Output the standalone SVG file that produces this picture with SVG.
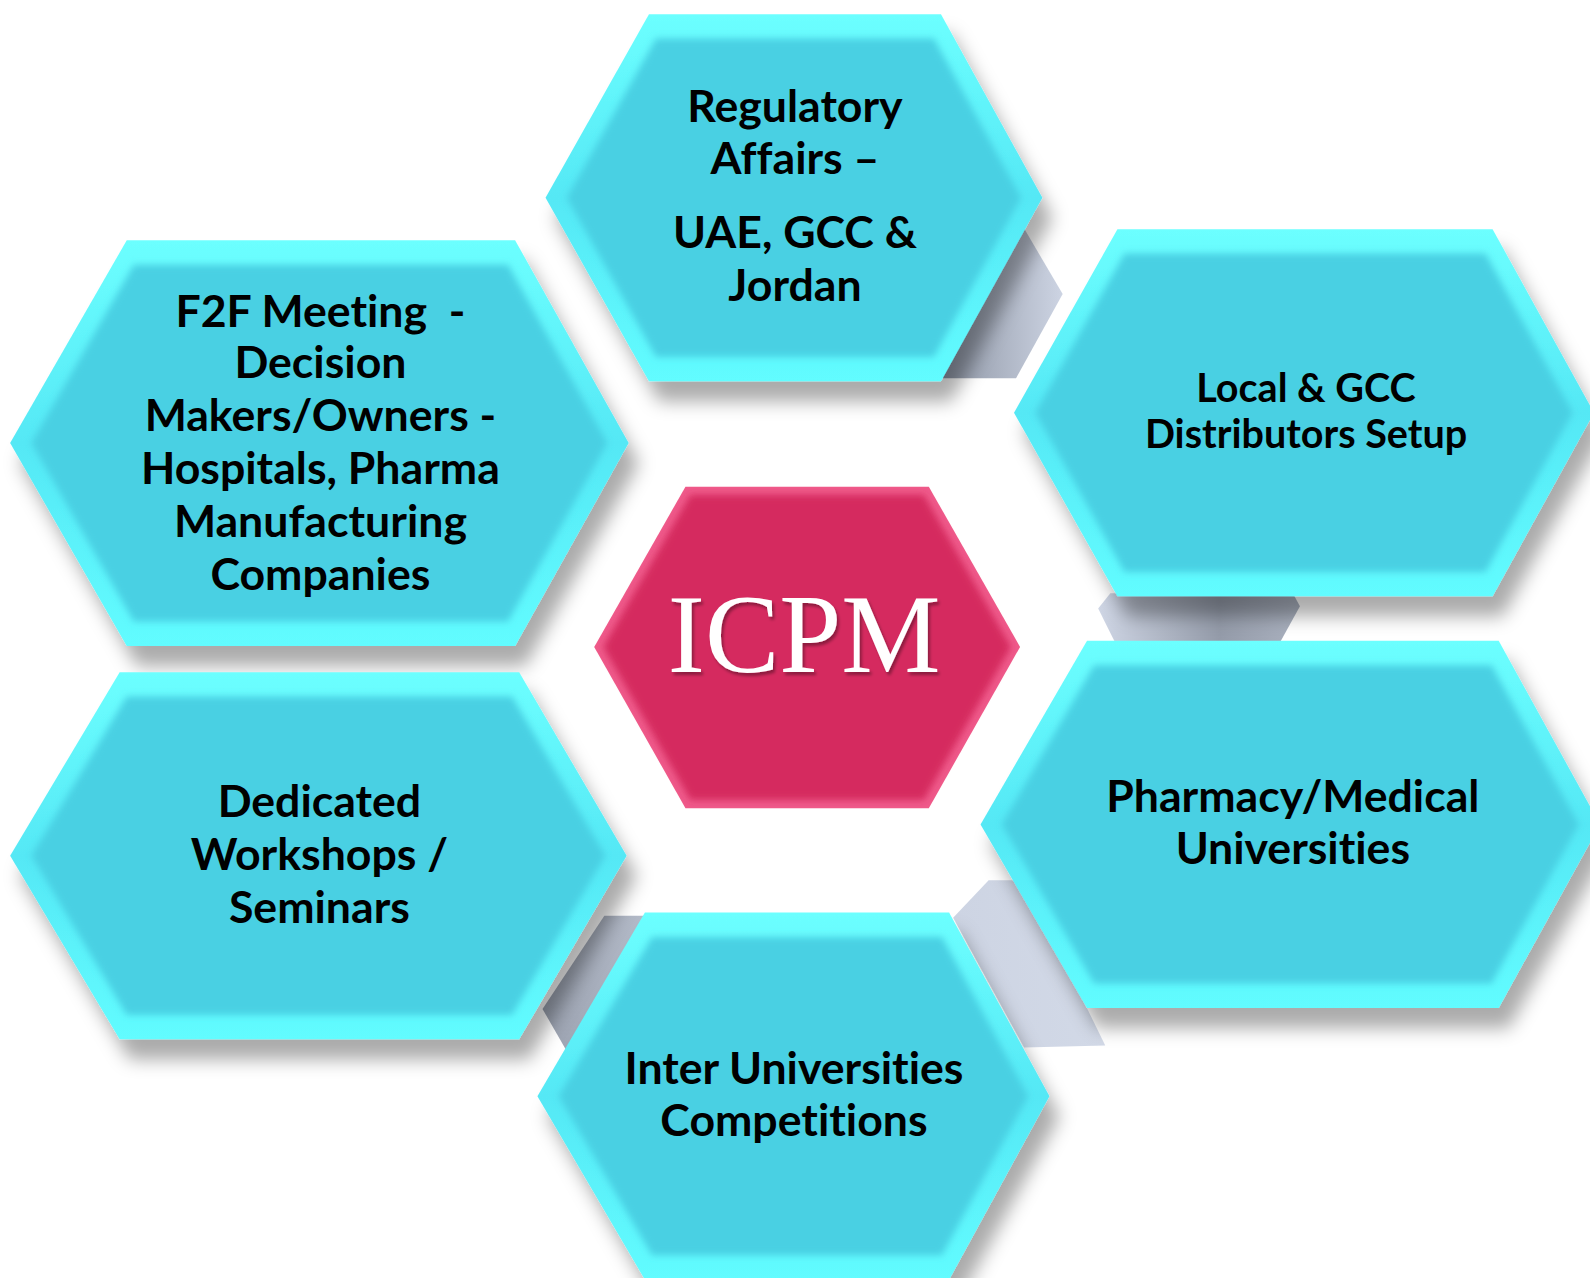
<svg xmlns="http://www.w3.org/2000/svg" width="1590" height="1278" viewBox="0 0 1590 1278">
<style>
.outer{fill:url(#bev);filter:url(#ds)}
.inner{fill:#4ad0e3;filter:url(#soft)}
.t{font-family:Lato,"Liberation Sans","DejaVu Sans",sans-serif;font-weight:700;font-size:44px;fill:#000;text-anchor:middle;font-variant-ligatures:none;font-feature-settings:"liga" 0}
.ts{font-size:39px}
.icpm{font-family:"Liberation Serif","DejaVu Serif",serif;font-size:110px;fill:#fff;text-anchor:middle;filter:url(#tsh)}
</style>
<defs>
<linearGradient id="bev" x1="0" y1="0" x2="0" y2="1">
<stop offset="0" stop-color="#6cffff"/>
<stop offset="0.5" stop-color="#55e8f5"/>
<stop offset="1" stop-color="#62fcff"/>
</linearGradient>
<linearGradient id="grayA" x1="0" y1="0" x2="1" y2="0">
<stop offset="0" stop-color="#8e96a5"/>
<stop offset="1" stop-color="#cdd4e3"/>
</linearGradient>
<linearGradient id="grayB" x1="0" y1="0" x2="1" y2="0">
<stop offset="0" stop-color="#cfd6e5"/>
<stop offset="0.6" stop-color="#949ba9"/>
<stop offset="1" stop-color="#aab1bf"/>
</linearGradient>
<linearGradient id="grayC" x1="0" y1="0" x2="1" y2="0">
<stop offset="0" stop-color="#cdd4e3"/>
<stop offset="1" stop-color="#d2d9e7"/>
</linearGradient>
<linearGradient id="grayD" x1="0" y1="0" x2="1" y2="0">
<stop offset="0" stop-color="#9aa1af"/>
<stop offset="1" stop-color="#b9c0ce"/>
</linearGradient>
<filter id="ds" x="-20%" y="-20%" width="150%" height="150%">
<feDropShadow dx="10" dy="20" stdDeviation="9" flood-color="#000" flood-opacity="0.33"/>
</filter>
<filter id="soft" x="-10%" y="-10%" width="120%" height="120%">
<feGaussianBlur stdDeviation="3.5"/>
</filter>
<filter id="tsh" x="-10%" y="-10%" width="120%" height="130%">
<feDropShadow dx="2" dy="3" stdDeviation="1.5" flood-color="#000" flood-opacity="0.35"/>
</filter>
</defs>
<rect width="1590" height="1278" fill="#fff"/>

<g transform="scale(1.014)">
<g id="back-shapes">
<polygon points="940,200 1008,222 1048,290 1002,373 930,373" fill="url(#grayA)"/>
<polygon points="1095,585 1275,585 1282,598 1262,634 1100,634 1083,600" fill="url(#grayB)"/>
<polygon points="975,868 1010,868 1090,1031 1010,1033 940,905" fill="url(#grayC)"/>
<polygon points="596,903 660,903 660,1040 558,1035 535,995" fill="url(#grayD)"/>
</g>

<g id="connectors"></g>

<g id="node-regulatory">
<polygon class="outer" points="640,14 928,14 1028,195 928,376 640,376 538,195"/>
<polygon class="inner" points="647,38 921,38 1007,195 921,352 647,352 559,195"/>
<text class="t" x="784" y="120">Regulatory</text>
<text class="t" x="784" y="172">Affairs –</text>
<text class="t" x="784" y="245">UAE, GCC &amp;</text>
<text class="t" x="784" y="297">Jordan</text>
</g>

<g id="node-f2f">
<polygon class="outer" points="125,237 508,237 620,437 508,637 125,637 10,437"/>
<polygon class="inner" points="132,261 501,261 599,437 501,613 132,613 31,437"/>
<text class="t" x="316" y="322" xml:space="preserve">F2F Meeting  -</text>
<text class="t" x="316" y="373">Decision</text>
<text class="t" x="316" y="425">Makers/Owners -</text>
<text class="t" x="316" y="477">Hospitals, Pharma</text>
<text class="t" x="316" y="530">Manufacturing</text>
<text class="t" x="316" y="582">Companies</text>
</g>

<g id="node-distributors">
<polygon class="outer" points="1102,226 1472,226 1572,407 1472,588 1102,588 1000,407"/>
<polygon class="inner" points="1109,250 1465,250 1551,407 1465,564 1109,564 1021,407"/>
<text class="t ts" x="1288" y="396">Local &amp; GCC</text>
<text class="t ts" x="1288" y="442">Distributors Setup</text>
</g>

<g id="node-workshops">
<polygon class="outer" points="118,663 512,663 618,844 512,1025 118,1025 10,844"/>
<polygon class="inner" points="125,687 505,687 597,844 505,1001 125,1001 31,844"/>
<text class="t" x="315" y="806">Dedicated</text>
<text class="t" x="315" y="858">Workshops /</text>
<text class="t" x="315" y="910">Seminars</text>
</g>

<g id="node-universities">
<polygon class="outer" points="1072,632 1478,632 1578,813 1478,994 1072,994 967,813"/>
<polygon class="inner" points="1079,656 1471,656 1557,813 1471,970 1079,970 988,813"/>
<text class="t" x="1275" y="801">Pharmacy/Medical</text>
<text class="t" x="1275" y="852">Universities</text>
</g>

<g id="node-competitions">
<polygon class="outer" points="636,900 936,900 1035,1081 936,1262 636,1262 530,1081"/>
<polygon class="inner" points="643,924 929,924 1014,1081 929,1238 643,1238 551,1081"/>
<text class="t" x="783" y="1069">Inter Universities</text>
<text class="t" x="783" y="1120">Competitions</text>
</g>

<g id="node-icpm">
<polygon points="676,480 916,480 1006,638 916,797 676,797 586,638" fill="#ef5a8a"/>
<polygon points="681,488 911,488 997,638 911,789 681,789 595,638" fill="#d52a5f" filter="url(#soft)"/>
<text class="icpm" x="793" y="663">ICPM</text>
</g>
</g>
</svg>
